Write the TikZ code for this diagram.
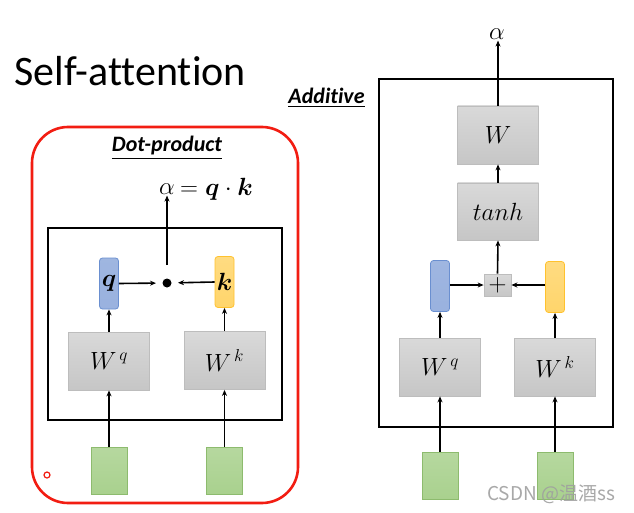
\documentclass[tikz,border=0pt]{standalone}
\usepackage{fontspec}
\usepackage{amsmath}
\setmainfont{Carlito}[Ligatures=NoCommon]
\newfontfamily\cjkfont{Noto Sans CJK SC}
\usetikzlibrary{arrows.meta}
\definecolor{wtop}{HTML}{D9D9D9}
\definecolor{wbot}{HTML}{C6C6C6}
\definecolor{wedge}{HTML}{BDBDBD}
\definecolor{qfill}{HTML}{8EA9DB}
\definecolor{qedge}{HTML}{6A8FD0}
\definecolor{kfill}{HTML}{FFD56B}
\definecolor{kedge}{HTML}{FFC22E}
\definecolor{gfill}{HTML}{A9D18E}
\definecolor{gedge}{HTML}{8DBB6E}
\definecolor{redframe}{HTML}{F21D12}
\tikzset{
  wbox/.style={draw=wedge, line width=0.8pt, top color=wtop, bottom color=wbot,
    minimum width=81pt, minimum height=58pt, inner sep=0pt, font=\fontsize{24}{28}\selectfont},
  qbar/.style={draw=qedge, line width=0.8pt, top color=qfill!85, bottom color=qfill!100!black!90,
    rounded corners=3pt, minimum width=19pt, minimum height=51pt, inner sep=0pt,
    font=\fontsize{23}{26}\selectfont},
  kbar/.style={draw=kedge, line width=0.8pt, top color=kfill!85, bottom color=kfill,
    rounded corners=3pt, minimum width=19pt, minimum height=51pt, inner sep=0pt,
    font=\fontsize{23}{26}\selectfont},
  inbox/.style={draw=gedge, line width=0.8pt, top color=gfill!85, bottom color=gfill,
    minimum width=36pt, minimum height=47pt, inner sep=0pt},
  arr/.style={-{Stealth[length=6pt,width=5pt]}, line width=1.6pt},
  frame/.style={draw=black, line width=2.6pt},
  heading/.style={font=\fontsize{22}{26}\selectfont\bfseries\itshape, inner sep=0pt},
  mathlbl/.style={font=\fontsize{23}{27}\selectfont, inner sep=1pt},
}
\begin{document}
\begin{tikzpicture}[x=1pt,y=-1pt]
\useasboundingbox (0,0) rectangle (634,513);
\fill[white] (0,0) rectangle (634,513);

% title
\node[anchor=base west, inner sep=0pt, font=\fontsize{42}{48}\selectfont] (title) at (14,86) {Self-attention};

% ===== Dot-product =====
\draw[draw=redframe, line width=2.6pt, rounded corners=36pt] (32,127) rectangle (298,503);
\node[heading] (dphead) at (167,148) {\underline{Dot-product}};
\draw[frame] (48,228) rectangle (282,420);

\node[mathlbl] (a1) at (167,189) {$\alpha$};
\node[mathlbl, anchor=west] (eq1) at ([xshift=3pt]a1.east) {$=\boldsymbol{q}\cdot\boldsymbol{k}$};

\node[qbar] (q1) at (109,283.5) {$\boldsymbol{q}$};
\node[kbar] (k1) at (224.5,282) {$\boldsymbol{k}$};
\node[circle, fill=black, inner sep=0pt, minimum size=9pt] (dot) at (167,283) {};
\node[wbox] (wq1) at (109,361) {$W^{\,q}$};
\node[wbox] (wk1) at (224.5,360.5) {$W^{\,k}$};
\node[inbox] (x1) at (109,470.5) {};
\node[inbox] (x2) at (224.5,470.5) {};

\draw[arr, shorten >=11pt] (q1.east) -- (dot.center);
\draw[arr, shorten >=11pt] (k1.west) -- (dot.center);
\draw[arr, shorten <=18pt] (dot.center) -- (dot |- a1.south);
\draw[arr] (wq1.north) -- (q1.south);
\draw[arr] (wk1.north) -- (k1.south);
\draw[arr] (x1.north) -- (wq1.south);
\draw[arr] (x2.north) -- (wk1.south);

\draw[redframe, line width=1.2pt] (47,475) circle (3pt);

% ===== Additive =====
\node[heading] (adhead) at (326.5,98) {\underline{Additive}};
\draw[frame] (379,79) rectangle (613,427);

\node[mathlbl] (a2) at (497,34) {$\alpha$};
\node[wbox] (w) at (498,135) {$W$};
\node[wbox, minimum height=57pt] (th) at (498,211.5) {$tanh$};
\node[draw=wedge, line width=0.8pt, top color=wtop, bottom color=wbot, minimum width=27pt,
  minimum height=22pt, inner sep=0pt, font=\fontsize{25}{26}\selectfont] (plus) at (497.5,285) {$+$};
\node[qbar] (q2) at (440,286) {};
\node[kbar] (k2) at (555,287) {};
\node[wbox] (wq2) at (440,367) {$W^{\,q}$};
\node[wbox] (wk2) at (555,367) {$W^{\,k}$};
\node[inbox] (x3) at (440,475.5) {};
\node[inbox] (x4) at (555,475.5) {};

\draw[arr] (w.north) -- (w.north |- a2.south);
\draw[arr] (th.north) -- (w.south);
\draw[arr] (plus.north) -- (th.south);
\draw[arr] (q2.east |- plus.west) -- (plus.west);
\draw[arr] (k2.west |- plus.east) -- (plus.east);
\draw[arr] (wq2.north) -- (q2.south);
\draw[arr] (wk2.north) -- (k2.south);
\draw[arr] (x3.north) -- (wq2.south);
\draw[arr] (x4.north) -- (wk2.south);

% watermark
\node[anchor=base west, inner sep=0pt, text=gray!75, opacity=0.9, font=\cjkfont\fontsize{19}{22}\selectfont] (wm) at (487,500) {CSDN @温酒ss};
\end{tikzpicture}
\end{document}
